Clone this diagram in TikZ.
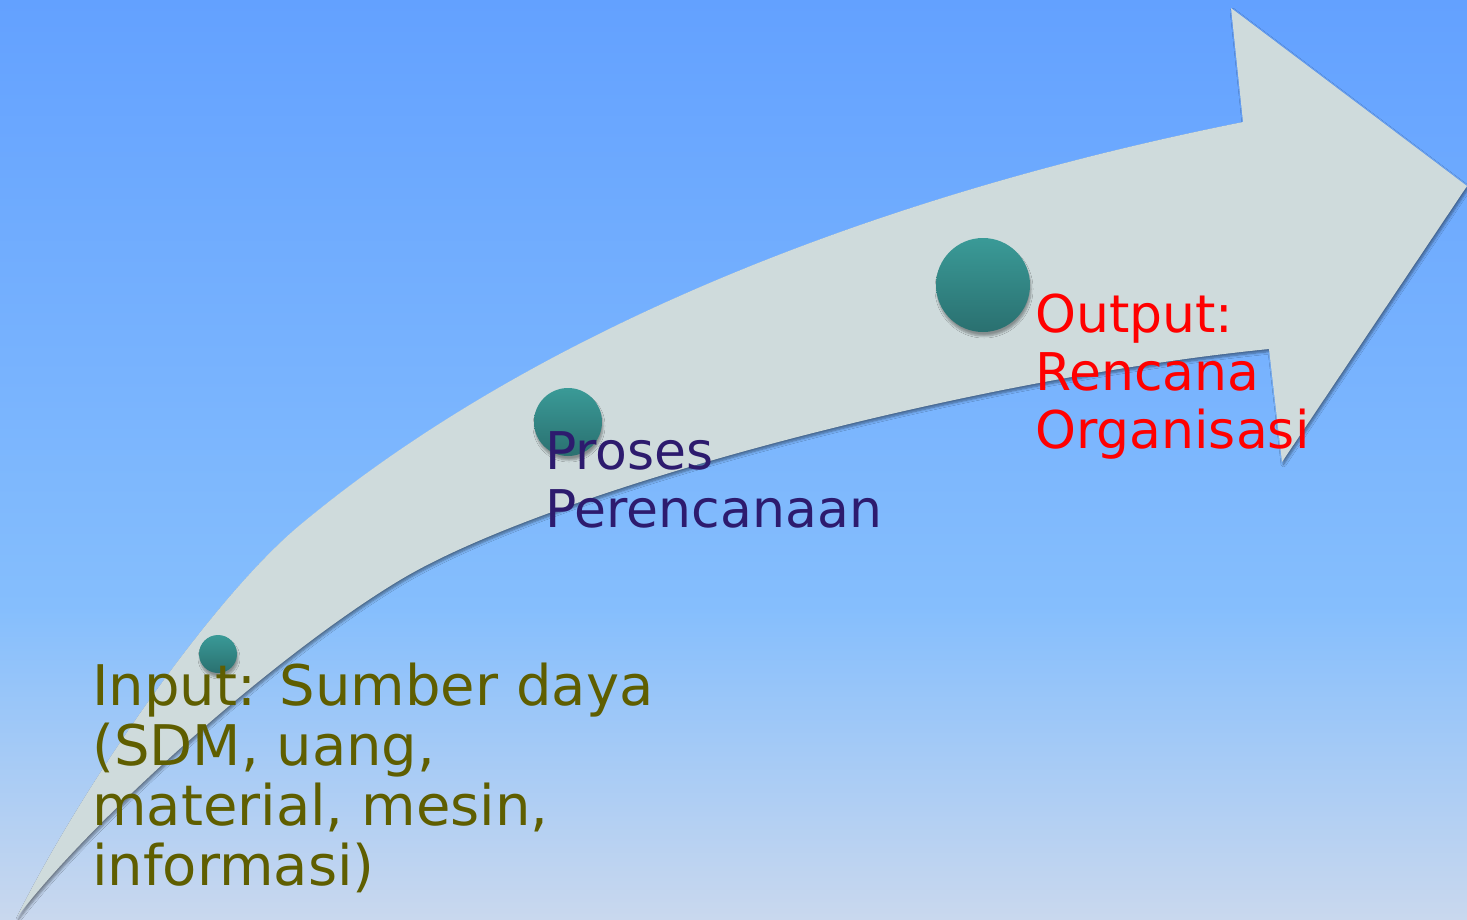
\documentclass[tikz,border=0pt]{standalone}
\usepackage{fontspec}
\setmainfont{DejaVu Sans}
\usetikzlibrary{shadows.blur}

\definecolor{bgtop}{RGB}{99,161,255}
\definecolor{bgmid}{RGB}{133,190,253}
\definecolor{bgbot}{RGB}{201,216,238}
\definecolor{arrowfill}{RGB}{207,219,220}
\definecolor{balltop}{RGB}{58,154,151}
\definecolor{ballbot}{RGB}{42,112,112}
\definecolor{inputcol}{RGB}{95,94,0}
\definecolor{prosescol}{RGB}{45,27,110}
\definecolor{outputcol}{RGB}{255,0,0}

% sky background, bottom (25bp) to top (75bp)
\pgfdeclareverticalshading{bgsky}{100bp}{color(0bp)=(bgbot); color(25bp)=(bgbot); color(42bp)=(bgmid); color(75bp)=(bgtop); color(100bp)=(bgtop)}

\tikzset{
  ball/.style={circle, inner sep=0pt, top color=balltop, bottom color=ballbot,
    blur shadow={shadow xshift=1pt, shadow yshift=-4pt, shadow blur radius=2pt, shadow blur steps=6, shadow opacity=35}},
  lbl/.style={align=left, inner sep=0pt, anchor=base west},
  biglbl/.style={lbl, font=\fontsize{56}{60}\selectfont},
  midlbl/.style={lbl, font=\fontsize{52}{58}\selectfont},
}

\begin{document}
\begin{tikzpicture}[x=1pt, y=-1pt]
  \useasboundingbox (0,0) rectangle (1467,919);
  \shade[shading=bgsky] (0,0) rectangle (1467,919);

  % curved arrow: head, lower edge back to the tail, upper edge up to the head
  \fill[arrowfill, blur shadow={shadow xshift=1.5pt, shadow yshift=-2.5pt, shadow blur radius=2.5pt, shadow blur steps=6, shadow opacity=45}]
    (1243,122) -- (1231,8) -- (1467,186) -- (1282,462) -- (1269,349)
    .. controls (969,379) and (550,490) .. (400,580)
    .. controls (280,652) and (97,813) .. (17,917)
    .. controls (80,790) and (210,600) .. (300,525)
    .. controls (516,345) and (843,202) .. (1243,122)
    -- cycle;

  % stage markers
  \node[ball, minimum size=38pt] (b1) at (218,654) {};
  \node[ball, minimum size=68pt] (b2) at (568,422) {};
  \node[ball, minimum size=94pt] (b3) at (983,285) {};

  % stage labels (anchored at the baseline of their last line)
  \node[biglbl, text=inputcol] (input) at (92,885)
    {Input: Sumber daya\\(SDM, uang,\\material, mesin,\\informasi)};
  \node[midlbl, text=prosescol] (proses) at (545,527)
    {Proses\\Perencanaan};
  \node[midlbl, text=outputcol] (output) at (1035,448)
    {Output:\\Rencana\\Organisasi};
\end{tikzpicture}
\end{document}
